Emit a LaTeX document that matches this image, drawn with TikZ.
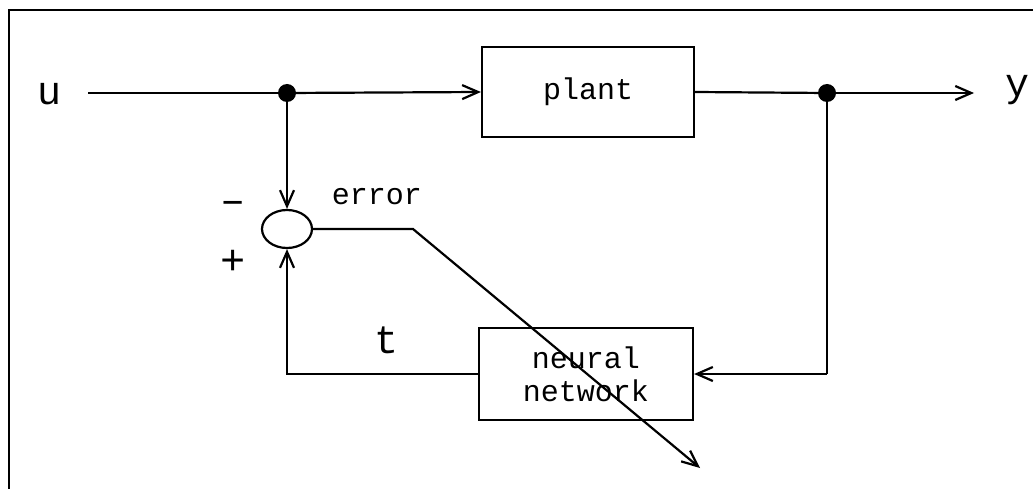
\documentclass[tikz,border=0pt]{standalone}
\usepackage{fontspec}
\setmainfont{Liberation Mono}
\usetikzlibrary{arrows.meta,shapes.geometric}
\tikzset{
  ln/.style={line width=2.2pt},
  arr/.style={ln,-{Straight Barb[length=16pt,width=14pt,line width=2.2pt]}},
  blk/.style={draw,line width=2.2pt,rectangle,inner sep=0pt,font=\fontsize{30}{33}\selectfont,align=center},
  lbl/.style={inner sep=0pt,font=\fontsize{30}{33}\selectfont},
  sgn/.style={inner sep=0pt,font=\fontsize{42}{42}\selectfont},
  big/.style={inner sep=0pt,font=\fontsize{40}{40}\selectfont},
  jdot/.style={circle,fill=black,inner sep=0pt,minimum size=18pt}
}
\begin{document}
\begin{tikzpicture}[x=1pt,y=-1pt]
\useasboundingbox (0,0) rectangle (1033,489);
\draw[line width=2.4pt] (9,489) -- (9,10) -- (1033,10);
% blocks
\node[blk,minimum width=212pt,minimum height=90pt] (plant) at (588,92) {plant};
\node[blk,minimum width=214pt,minimum height=92pt] (nn) at (586,374) {neural\\network};
\node[draw,ellipse,line width=2.2pt,minimum width=50pt,minimum height=38pt,inner sep=0pt] (sum) at (287,229) {};
% junctions
\node[jdot] (d1) at (287,93) {};
\node[jdot] (d2) at (827,93) {};
\coordinate (ustart) at (88,93);
\coordinate (yend) at (974,93);
\coordinate (ebend) at (413,229);
\coordinate (eend) at (700,468);
\coordinate (fcorner) at (287,374);
\coordinate (rcorner) at (827,374);
% labels
\node[big] (u) at (50,94) {u};
\node[big] (y) at (1017,90) {y};
\node[big] (t) at (386,340) {t};
\node[lbl] (err) at (377,197) {error};
\node[sgn] (minus) at (233,207) {–};
\node[sgn] (plus) at (233,262) {+};
% connectors
\draw[ln] (ustart) -- (d1);
\draw[arr] (d1) -- (plant.west);
\draw[ln] (plant.east) -- (d2);
\draw[arr] (d2) -- (yend);
\draw[arr] (d1) -- (sum.north);
\draw[ln] (d2) -- (rcorner);
\draw[arr] (rcorner) -- (nn.east);
\draw[arr] (nn.west) -- (fcorner) -- (sum.south);
\draw[arr] (sum.east) -- (ebend) -- (eend);
\end{tikzpicture}
\end{document}
